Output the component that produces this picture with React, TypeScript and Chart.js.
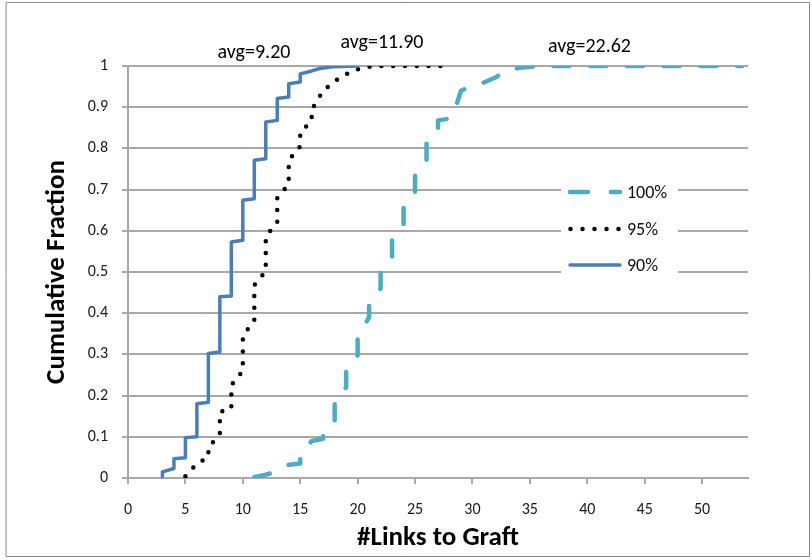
import React, { useEffect, useRef } from "react";
import { Chart, registerables } from "chart.js";

Chart.register(...registerables);

// ---------- data ----------
const seriesNames = ["100%", "95%", "90%"];
const avgLabels = ["avg=9.20", "avg=11.90", "avg=22.62"];

const links90 = [3, 3, 4, 4, 5, 5, 6, 6, 7, 7, 8, 8, 9, 9, 10, 10, 11, 11, 12, 12, 13, 13, 14, 14, 15, 15, 16, 16.7, 17.8, 20];
const frac90 = [0.004, 0.015, 0.023, 0.047, 0.049, 0.098, 0.1, 0.18, 0.184, 0.302, 0.306, 0.44, 0.442, 0.573, 0.577, 0.674, 0.678, 0.771, 0.775, 0.864, 0.868, 0.921, 0.925, 0.957, 0.961, 0.981, 0.988, 0.994, 0.998, 1.0];

const links95 = [5, 6, 7, 7, 8, 8, 9, 9, 10, 10, 11, 11, 12, 12, 13, 13, 14, 14, 15, 15, 16, 16, 17, 18, 19, 20, 21, 22, 28];
const frac95 = [0.004, 0.035, 0.05, 0.075, 0.105, 0.16, 0.168, 0.225, 0.26, 0.344, 0.383, 0.468, 0.502, 0.587, 0.62, 0.68, 0.713, 0.771, 0.805, 0.84, 0.866, 0.894, 0.94, 0.963, 0.98, 0.992, 0.998, 1.0, 1.0];

const links100 = [11, 12, 13, 14, 15, 15, 16, 17, 17, 18, 18, 19, 19, 20, 20, 21, 21, 22, 22, 23, 23, 24, 24, 25, 25, 26, 26, 27, 27, 28, 28.6, 29, 30, 31, 32, 33, 34, 35, 36, 53.5];
const frac100 = [0.002, 0.008, 0.016, 0.032, 0.035, 0.055, 0.09, 0.095, 0.112, 0.14, 0.19, 0.22, 0.265, 0.298, 0.342, 0.39, 0.42, 0.46, 0.504, 0.536, 0.577, 0.609, 0.658, 0.69, 0.735, 0.763, 0.811, 0.84, 0.868, 0.872, 0.905, 0.94, 0.952, 0.96, 0.972, 0.99, 0.995, 0.998, 1.0, 1.0];

const xMax = 54;
const xStep = 5;
const yStep = 0.1;

// ---------- styles ----------
const FONT = "Carlito, Lato, 'Open Sans', sans-serif";
const C100 = "#4BACC6";
const C95 = "#000000";
const C90 = "#4A7EBB";
const GRID = "#a8a8a8";
const DASH100 = [16, 20.7];
const DOT95 = [0, 11.8];

const toPts = (xs: number[], ys: number[]) => xs.map((x, i) => ({ x, y: ys[i] }));

const styles = [
  { color: C100, dash: [18, 23], width: 4.5 },
  { color: C95, dash: [0, 12], width: 4.5 },
  { color: C90, dash: [], width: 3.5 },
];

const overlayPlugin = {
  id: "overlay",
  beforeDraw(chart: any) {
    const ctx = chart.ctx;
    ctx.save();
    ctx.fillStyle = "#ffffff";
    ctx.fillRect(0, 0, chart.width, chart.height);
    ctx.restore();
  },
  afterDatasetsDraw(chart: any) {
    const ctx = chart.ctx;
    ctx.save();
    // legend box
    ctx.fillStyle = "#ffffff";
    ctx.fillRect(561, 176, 117, 106);
    const rowsY = [192, 229, 265];
    seriesNames.forEach((name, i) => {
      const s = styles[i];
      const y = rowsY[i];
      ctx.beginPath();
      ctx.setLineDash(s.dash);
      ctx.lineCap = "round";
      ctx.lineWidth = s.width;
      ctx.strokeStyle = s.color;
      if (i === 1) {
        ctx.moveTo(570.5, y);
        ctx.lineTo(619.5, y);
      } else {
        ctx.moveTo(570, y);
        ctx.lineTo(620, y);
      }
      ctx.stroke();
      ctx.setLineDash([]);
      ctx.fillStyle = "#111";
      ctx.font = `18px ${FONT}`;
      ctx.textAlign = "left";
      ctx.textBaseline = "middle";
      ctx.fillText(name, 627, y + 1);
    });
    // avg annotations
    const pos = [
      [254, 58],
      [382, 48],
      [589.5, 52],
    ];
    ctx.font = `20px ${FONT}`;
    ctx.fillStyle = "#000";
    ctx.textAlign = "center";
    ctx.textBaseline = "alphabetic";
    avgLabels.forEach((t, i) => ctx.fillText(t, pos[i][0], pos[i][1]));
    // outer border
    ctx.strokeStyle = "#8a8a8a";
    ctx.lineWidth = 1;
    ctx.beginPath();
    ctx.rect(6.5, 2.5, 803, 554);
    ctx.stroke();
    ctx.restore();
  },
};

export default function App() {
  const ref = useRef<HTMLCanvasElement>(null);
  useEffect(() => {
    const chart = new Chart(ref.current as HTMLCanvasElement, {
      type: "scatter",
      data: {
        datasets: [
          {
            label: seriesNames[2],
            data: toPts(links90, frac90),
            showLine: true,
            borderColor: C90,
            borderWidth: 3.5,
            borderCapStyle: "round",
            borderJoinStyle: "round",
            pointRadius: 0,
            tension: 0,
          },
          {
            label: seriesNames[1],
            data: toPts(links95, frac95),
            showLine: true,
            borderColor: C95,
            borderWidth: 4.5,
            borderDash: DOT95,
            borderCapStyle: "round",
            pointRadius: 0,
            tension: 0,
          },
          {
            label: seriesNames[0],
            data: toPts(links100, frac100),
            showLine: true,
            borderColor: C100,
            borderWidth: 4.5,
            borderDash: DASH100,
            borderDashOffset: 0,
            borderCapStyle: "round",
            borderJoinStyle: "round",
            pointRadius: 0,
            tension: 0,
          },
        ],
      } as any,
      options: {
        animation: false,
        responsive: false,
        devicePixelRatio: 1,
        layout: { padding: { left: 0, top: 66, right: 64, bottom: 0 } },
        plugins: { legend: { display: false }, tooltip: { enabled: false } },
        scales: {
          x: {
            type: "linear",
            min: 0,
            max: xMax,
            afterFit: (s: any) => {
              s.height = 82;
            },
            ticks: {
              stepSize: xStep,
              includeBounds: false,
              padding: 16,
              color: "#1a1a1a",
              font: { family: FONT, size: 16 },
            },
            grid: { drawOnChartArea: false, drawTicks: true, tickLength: 6, color: GRID, lineWidth: 2 },
            border: { color: GRID, width: 2 },
            title: {
              display: true,
              text: "#Links to Graft",
              color: "#000",
              font: { family: FONT, size: 27, weight: "bold" },
              padding: { top: 0, bottom: 6 },
            },
          },
          y: {
            type: "linear",
            min: 0,
            max: 1,
            afterFit: (s: any) => {
              s.width = 128;
            },
            ticks: {
              stepSize: yStep,
              padding: 14,
              color: "#1a1a1a",
              font: { family: FONT, size: 16 },
              callback: (v: any) => String(Number(Number(v).toFixed(1))),
            },
            grid: { color: GRID, lineWidth: 2, tickLength: 6 },
            border: { color: GRID, width: 2 },
            title: {
              display: true,
              text: "Cumulative Fraction",
              color: "#000",
              font: { family: FONT, size: 27, weight: "bold" },
              padding: { top: 41, bottom: 0 },
            },
          },
        },
      } as any,
      plugins: [overlayPlugin],
    });
    return () => chart.destroy();
  }, []);
  return (
    <div style={{ position: "absolute", left: 0, top: 0, width: 812, height: 560, background: "#fff" }}>
      <canvas ref={ref} width={812} height={560} style={{ display: "block", width: 812, height: 560 }} />
    </div>
  );
}
